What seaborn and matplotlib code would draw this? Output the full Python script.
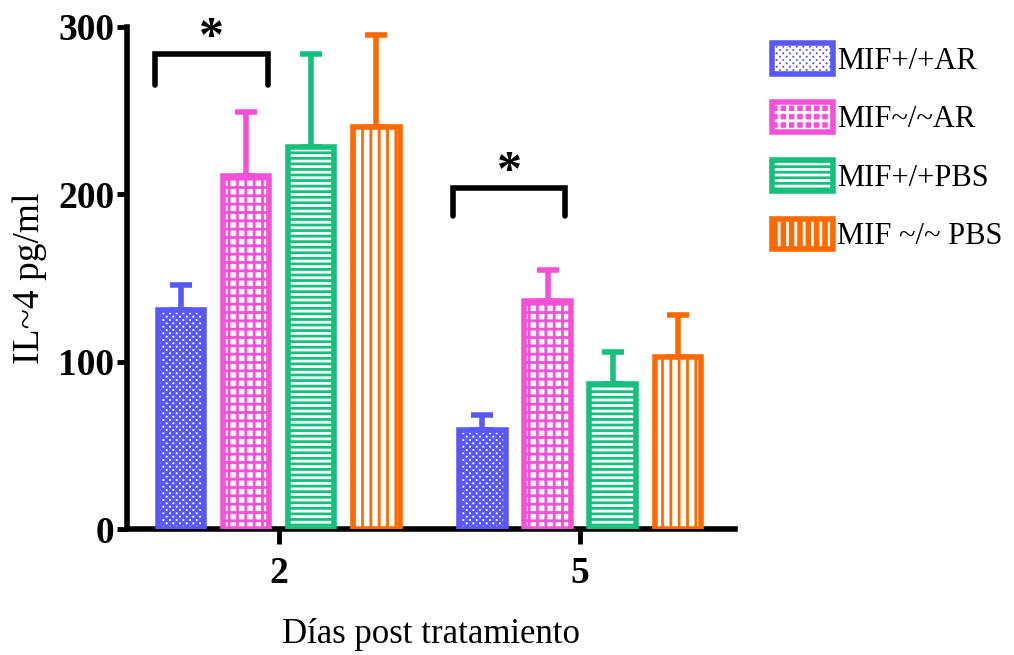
import matplotlib
matplotlib.use('Agg')
import matplotlib.pyplot as plt
import seaborn as sns
import pandas as pd
from matplotlib.patches import Patch
from matplotlib.legend_handler import HandlerTuple

# ---- data ----
days = ['2', '5']
groups = ['MIF+/+AR', 'MIF~/~AR', 'MIF+/+PBS', 'MIF ~/~ PBS']
mean_day2 = [131, 211, 228, 240]
mean_day5 = [59, 136, 87, 103]
err_day2 = [15, 38, 56, 55]
err_day5 = [9, 19, 19, 25]
colors = ['#5858f8', '#f550d8', '#14c07c', '#ff6a00']
hatches = ['xxxxx', '++', '---', '||']

# significance brackets: (x_left, x_right, y_top, y_bottom)
brackets = [(-0.412, -0.037, 284, 265), (0.578, 0.950, 204, 187)]

sns.set_style('ticks')
plt.rcParams['font.family'] = ['Liberation Serif', 'DejaVu Serif']
plt.rcParams['hatch.linewidth'] = 2.0
plt.rcParams['text.color'] = 'black'
plt.rcParams['axes.labelcolor'] = 'black'
plt.rcParams['xtick.color'] = 'black'
plt.rcParams['ytick.color'] = 'black'
plt.rcParams['axes.edgecolor'] = 'black'

rows = []
for d, means in [(days[0], mean_day2), (days[1], mean_day5)]:
    for g, m in zip(groups, means):
        rows.append({'day': d, 'group': g, 'value': m})
df = pd.DataFrame(rows)

fig = plt.figure(figsize=(10.14, 6.55), dpi=100)
ax = fig.add_axes([0.125, 0.192, 0.600, 0.767])

sns.barplot(data=df, x='day', y='value', hue='group', order=days, hue_order=groups,
            palette=colors, errorbar=None, width=0.864, gap=0.29, ax=ax, legend=False)

errs_by_group = list(zip(err_day2, err_day5))
means_by_group = list(zip(mean_day2, mean_day5))
bar_containers = list(ax.containers)
for i, cont in enumerate(bar_containers):
    xs = []
    for p in cont.patches:
        p.set_facecolor('white')
        p.set_edgecolor(colors[i])
        p.set_hatch(hatches[i])
        p.set_linewidth(4)
        p.set_zorder(3)
        xs.append(p.get_x() + p.get_width() / 2)
    ax.errorbar(xs, means_by_group[i], yerr=[[0, 0], list(errs_by_group[i])], fmt='none',
                ecolor=colors[i], elinewidth=4, capsize=8, capthick=4, zorder=2)

for (xl, xr, yt, yb) in brackets:
    ax.plot([xl, xl, xr, xr], [yb, yt, yt, yb], color='black', lw=4, clip_on=False,
            solid_joinstyle='miter')
    ax.text((xl + xr) / 2, yt - 5, '*', ha='center', va='bottom', fontsize=36,
            fontweight='bold', clip_on=False)

ax.set_xlim(-0.505, 1.515)
ax.set_ylim(0, 300)
ax.set_yticks([0, 100, 200, 300])
ax.set_xticks([0, 1])
ax.set_xticklabels(days)
for lab in ax.get_xticklabels() + ax.get_yticklabels():
    lab.set_fontweight('bold')
    lab.set_fontsize(27)
ax.tick_params(axis='y', length=7, width=3.5, pad=2)
ax.tick_params(axis='x', length=11, width=3.5, pad=8)
sns.despine(ax=ax)
ax.spines['left'].set_linewidth(4)
ax.spines['bottom'].set_linewidth(4)

ax.set_ylabel('IL~4 pg/ml', fontsize=27, labelpad=8)
ax.set_xlabel('Días post tratamiento', fontsize=25, labelpad=20)

handles = []
for c, h in zip(colors, hatches):
    inner = Patch(facecolor=c, edgecolor='white', hatch=h, linewidth=0)
    outer = Patch(facecolor='none', edgecolor=c, linewidth=4)
    handles.append((inner, outer))
fig.legend(handles, groups, handler_map={tuple: HandlerTuple(ndivide=1, pad=0)},
           loc='upper left', bbox_to_anchor=(0.761, 0.934), frameon=False,
           fontsize=22, handlelength=2.0, handleheight=1.15, labelspacing=0.85,
           handletextpad=0.15, borderpad=0, borderaxespad=0)

fig.savefig('out.png', dpi=100)
